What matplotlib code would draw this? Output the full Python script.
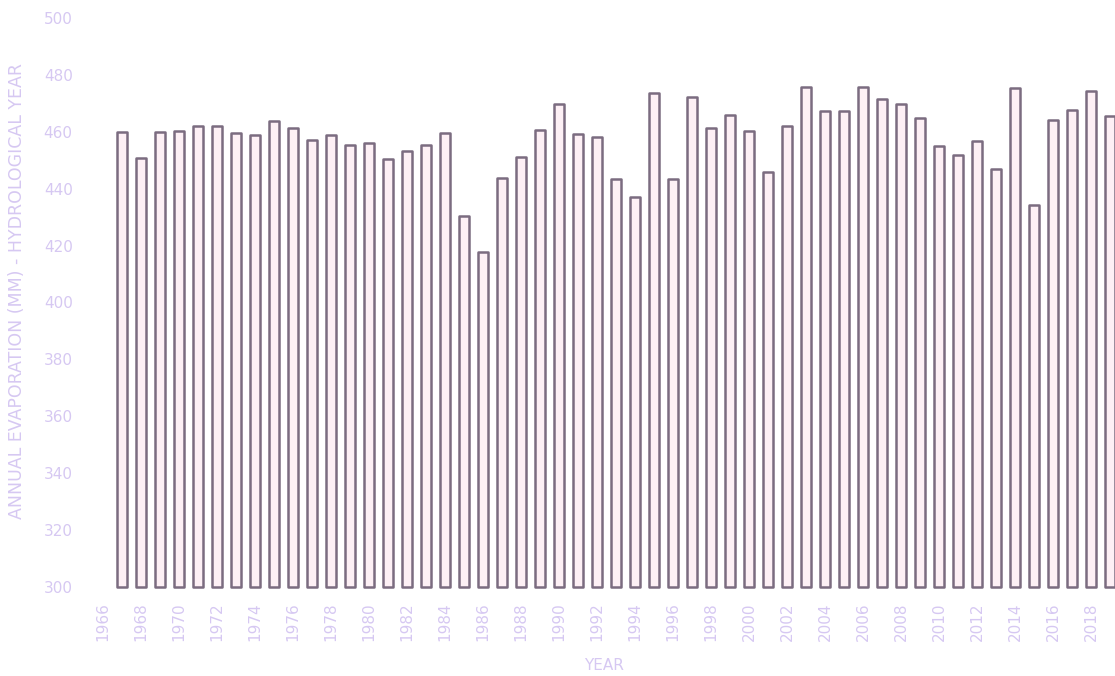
import matplotlib
matplotlib.use("Agg")
import matplotlib.pyplot as plt

years = list(range(1967, 2020))
evaporation = [
    460.0, 450.7, 460.0, 460.2, 462.0, 462.2, 459.7, 458.9, 463.8, 461.3,
    457.1, 458.8, 455.4, 456.1, 450.3, 453.3, 455.5, 459.6, 430.3, 417.6,
    443.7, 451.0, 460.6, 469.9, 459.1, 458.0, 443.3, 436.9, 473.5, 443.4,
    472.3, 461.5, 466.0, 460.1, 445.7, 462.0, 475.6, 467.4, 467.4, 475.6,
    471.5, 469.7, 464.8, 455.1, 451.9, 456.8, 446.9, 475.4, 434.3, 464.1,
    467.7, 474.4, 465.6,
]
year_ticks = list(range(1966, 2020, 2))
y_ticks = list(range(300, 501, 20))

label_col = "#d6c8f2"
edge_col = "#7b6c80"
base = 300

fig = plt.figure(figsize=(11.15, 6.76), dpi=100)
ax = fig.add_axes([0.0839, 0.1317, 0.9161, 0.8417])

bars = ax.bar(years, [v - base for v in evaporation], bottom=base, width=0.52,
              facecolor="#fdf0f5", edgecolor=edge_col, linewidth=1.8,
              clip_on=False)
for b in bars:
    b.set_joinstyle("round")

ax.set_xlim(1965.5, 2019.26)
ax.set_ylim(300, 500)
ax.set_yticks(y_ticks)
ax.set_xticks(year_ticks)
ax.set_xticklabels([str(y) for y in year_ticks], rotation=90)

for s in ax.spines.values():
    s.set_visible(False)
ax.tick_params(axis="y", length=0, pad=15, labelsize=11, labelcolor=label_col)
ax.tick_params(axis="x", length=0, pad=11, labelsize=11, labelcolor=label_col)

# y label sits a bit above the axes centre in the original
ax.set_ylabel("ANNUAL EVAPORATION (MM) - HYDROLOGICAL YEAR", color=label_col,
              fontsize=12.5)
ax.yaxis.set_label_coords(-0.066, 0.52)
ax.set_xlabel("YEAR", color=label_col, fontsize=11, labelpad=12)

fig.savefig("out.png", dpi=100)
